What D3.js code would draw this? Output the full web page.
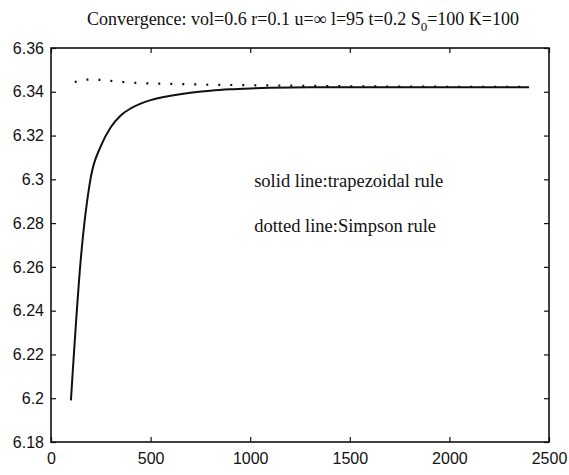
<!DOCTYPE html>
<html>
<head>
<meta charset="utf-8">
<script src="https://cdn.jsdelivr.net/npm/d3@7"></script>
<style>
  body { margin: 0; background: #fff; }
  .tick text { font-family: "Liberation Sans", Arial, sans-serif; font-size: 16px; fill: #111; }
  .tick line { stroke: #111; stroke-width: 1.2px; }
</style>
</head>
<body>
<div id="chart"></div>
<script>
// sizes of the page and the plot box
let width = 569, height = 475;
let margin = {top: 48, right: 20, bottom: 33, left: 51};

// number of integration steps
let steps = [100, 150, 200, 250, 300, 350, 400, 450, 500, 600, 700, 800, 900,
  1000, 1100, 1200, 1300, 1400, 1500, 1600, 1700, 1800, 1900, 2000, 2100, 2200,
  2300, 2400];

// trapezoidal rule result (solid line)
let trapezoid = [6.199, 6.264, 6.301, 6.3152, 6.3238, 6.3292, 6.3324, 6.3346,
  6.3362, 6.3382, 6.3396, 6.3405, 6.3411, 6.3415, 6.3418, 6.342, 6.3421, 6.3421,
  6.3421, 6.3421, 6.3421, 6.3421, 6.3421, 6.3421, 6.3421, 6.3421, 6.3421, 6.3421];

// simpson rule result (dotted line)
let simpson = [6.3438, 6.3452, 6.3456, 6.3454, 6.345, 6.3446, 6.3442, 6.344,
  6.3438, 6.3436, 6.3434, 6.3432, 6.3431, 6.343, 6.3429, 6.3428, 6.3427, 6.3426,
  6.3425, 6.3425, 6.3424, 6.3424, 6.3424, 6.3423, 6.3423, 6.3423, 6.3423, 6.3423];

let xTicks = [0, 500, 1000, 1500, 2000, 2500];
let yTicks = [6.18, 6.2, 6.22, 6.24, 6.26, 6.28, 6.3, 6.32, 6.34, 6.36];
let yTickLabels = ["6.18", "6.2", "6.22", "6.24", "6.26", "6.28", "6.3", "6.32", "6.34", "6.36"];

let legendLines = ["solid line:trapezoidal rule", "dotted line:Simpson rule"];

let innerW = width - margin.left - margin.right;
let innerH = height - margin.top - margin.bottom;

let svg = d3.select("#chart")
  .append("svg")
  .attr("width", width)
  .attr("height", height);

let g = svg.append("g")
  .attr("transform", "translate(" + margin.left + "," + margin.top + ")");

let x = d3.scaleLinear().domain([0, 2500]).range([0, innerW]);
let y = d3.scaleLinear().domain([6.18, 6.36]).range([innerH, 0]);

// axes, ticks point inwards on all four sides
g.append("g")
  .attr("transform", "translate(0," + innerH + ")")
  .call(d3.axisBottom(x).tickValues(xTicks).tickSize(-5).tickSizeOuter(0).tickPadding(11)
    .tickFormat(function(d) { return String(d); }));

g.append("g")
  .call(d3.axisTop(x).tickValues(xTicks).tickSize(-5).tickSizeOuter(0).tickFormat(""));

g.append("g")
  .call(d3.axisLeft(y).tickValues(yTicks).tickSize(-5).tickSizeOuter(0).tickPadding(7)
    .tickFormat(function(d, i) { return yTickLabels[i]; }));

g.append("g")
  .attr("transform", "translate(" + innerW + ",0)")
  .call(d3.axisRight(y).tickValues(yTicks).tickSize(-5).tickSizeOuter(0).tickFormat(""));

g.selectAll(".domain").remove();

// box round the plot
g.append("rect")
  .attr("width", innerW)
  .attr("height", innerH)
  .attr("fill", "none")
  .attr("stroke", "#111")
  .attr("stroke-width", 1.6);

let line = d3.line()
  .curve(d3.curveMonotoneX)
  .x(function(d) { return x(d[0]); })
  .y(function(d) { return y(d[1]); });

g.append("path")
  .datum(steps.map(function(s, i) { return [s, trapezoid[i]]; }))
  .attr("d", line)
  .attr("fill", "none")
  .attr("stroke", "#111")
  .attr("stroke-width", 2);

g.append("path")
  .datum(steps.map(function(s, i) { return [s, simpson[i]]; }))
  .attr("d", line)
  .attr("fill", "none")
  .attr("stroke", "#111")
  .attr("stroke-width", 2.2)
  .attr("stroke-dasharray", "2,10")
  .attr("stroke-dashoffset", -4);

// legend text inside the plot
g.selectAll(".legend")
  .data(legendLines)
  .enter()
  .append("text")
  .attr("class", "legend")
  .attr("x", x(1020))
  .attr("y", function(d, i) { return y(6.3) + 8 + i * 45; })
  .style("font-family", "'Liberation Serif', 'Times New Roman', serif")
  .style("font-size", "18.5px")
  .attr("fill", "#111")
  .text(function(d) { return d; });

// title with subscript
let title = svg.append("text")
  .attr("x", 303)
  .attr("y", 25)
  .attr("text-anchor", "middle")
  .style("font-family", "'Liberation Serif', 'Times New Roman', serif")
  .style("font-size", "18px")
  .attr("fill", "#111");
title.append("tspan").text("Convergence: vol=0.6 r=0.1 u=\u221e l=95 t=0.2 S");
title.append("tspan").attr("dy", 6).style("font-size", "13px").text("0");
title.append("tspan").attr("dy", -6).text("=100 K=100");
</script>
</body>
</html>
